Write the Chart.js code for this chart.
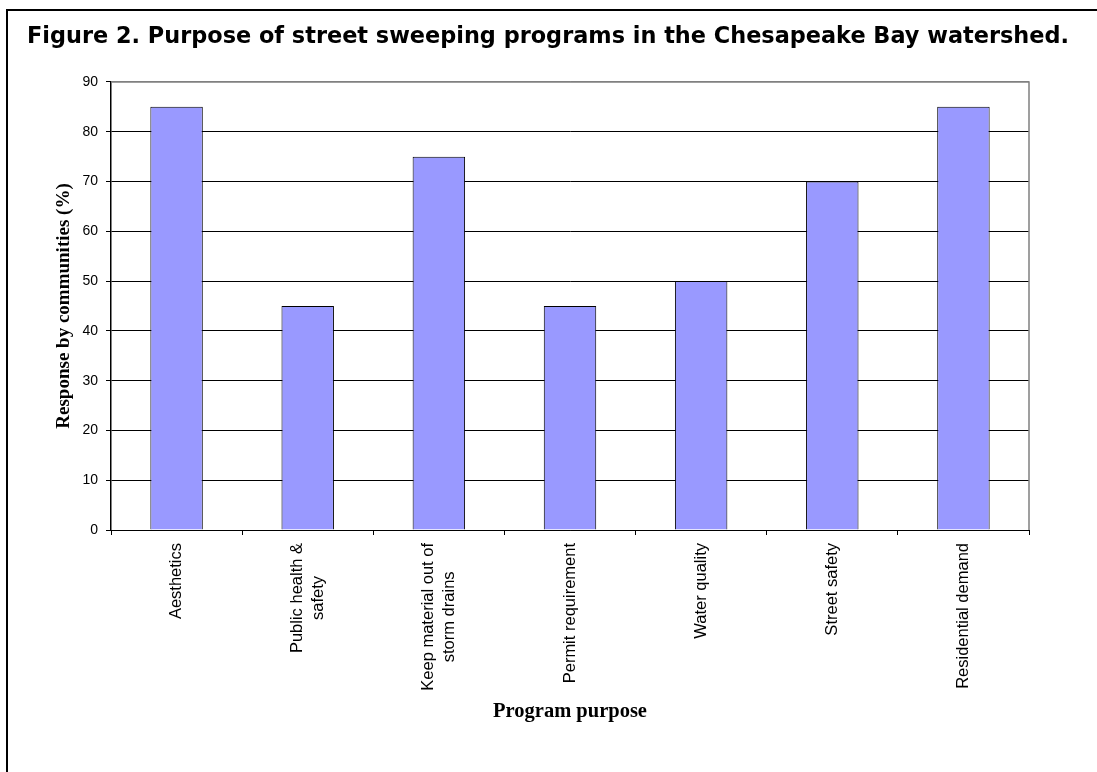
<!DOCTYPE html>
<html>
<head>
<meta charset="utf-8">
<script src="https://cdn.jsdelivr.net/npm/chart.js@4"></script>
<style>
  html, body { margin: 0; padding: 0; background: #fff; }
  #wrap { position: relative; width: 1097px; height: 772px; }
</style>
</head>
<body>
<div id="wrap"><canvas id="c" width="1097" height="772"></canvas></div>
<script>
const chartTitle = 'Figure 2. Purpose of street sweeping programs in the Chesapeake Bay watershed.';
const categories = [
  'Aesthetics',
  ['Public health &', 'safety'],
  ['Keep material out of', 'storm drains'],
  'Permit requirement',
  'Water quality',
  'Street safety',
  'Residential demand'
];
const responsePct = [85, 45, 75, 45, 50, 70, 85];
const yTitle = 'Response by communities (%)';
const xTitle = 'Program purpose';
const yMin = 0, yMax = 90, yStep = 10;

const frame = {
  id: 'frame',
  afterLayout(chart) {
    // let the figure title run across the full frame width (it is wider than the plot)
    const t = chart.titleBlock;
    if (t) { t.right = chart.width - 4; t.width = t.right - t.left; }
  },
  beforeDraw(chart) {
    const ctx = chart.ctx;
    ctx.save();
    ctx.fillStyle = '#fff';
    ctx.fillRect(0, 0, chart.width, chart.height);
    ctx.strokeStyle = '#000';
    ctx.lineWidth = 2;
    ctx.beginPath();
    ctx.moveTo(7, chart.height);
    ctx.lineTo(7, 10);
    ctx.lineTo(chart.width, 10);
    ctx.stroke();
    ctx.restore();

    // centre the lines of multi-line (rotated) category labels on each other and on the tick
    const scale = chart.scales.x;
    const items = scale.getLabelItems();
    items.forEach(item => {
      if (!Array.isArray(item.label) || item._centered) return;
      ctx.save();
      ctx.font = item.font.string;
      const widths = item.label.map(l => ctx.measureText(l).width);
      ctx.restore();
      const maxW = Math.max(...widths);
      const n = item.label.length;
      item.options.translation[0] -= (n - 1) * item.font.lineHeight / 2;
      item.options.translation[1] += maxW / 2;
      item.options.textAlign = 'center';
      item._centered = true;
    });
  },
  afterDatasetsDraw(chart) {
    const a = chart.chartArea;
    const ctx = chart.ctx;
    ctx.save();
    ctx.strokeStyle = '#808080';
    ctx.lineWidth = 1.5;
    ctx.beginPath();
    ctx.moveTo(a.left, a.top);
    ctx.lineTo(a.right, a.top);
    ctx.lineTo(a.right, a.bottom);
    ctx.stroke();
    ctx.restore();
  }
};

new Chart(document.getElementById('c'), {
  type: 'bar',
  data: {
    labels: categories,
    datasets: [{
      data: responsePct,
      backgroundColor: '#9999FF',
      borderColor: '#000',
      borderWidth: 1,
      categoryPercentage: 0.8,
      barPercentage: 0.5
    }]
  },
  options: {
    responsive: false,
    animation: false,
    devicePixelRatio: 1,
    layout: { padding: { left: 27, right: 68, top: 0, bottom: 0 } },
    plugins: {
      legend: { display: false },
      tooltip: { enabled: false },
      title: {
        display: true,
        text: chartTitle,
        align: 'start',
        color: '#000',
        font: { family: '"DejaVu Sans", Arial, sans-serif', size: 22.4, weight: 'bold', lineHeight: 1.2 },
        padding: { top: 24, bottom: 31.1 }
      }
    },
    scales: {
      x: {
        offset: true,
        grid: { display: true, drawOnChartArea: false, color: '#000', tickLength: 5, lineWidth: 1 },
        border: { display: true, color: '#000', width: 1 },
        ticks: {
          color: '#000',
          minRotation: 90, maxRotation: 90,
          autoSkip: false,
          padding: 8,
          font: { family: 'Arial, "Liberation Sans", sans-serif', size: 16.5, lineHeight: 1.3 }
        },
        title: {
          display: true, text: xTitle, color: '#000',
          font: { family: '"Times New Roman", "Liberation Serif", serif', size: 20.5, weight: 'bold', lineHeight: 1.2 },
          padding: { top: 4, bottom: 47.5 }
        },
        afterFit(scale) { scale.height = 242; }
      },
      y: {
        min: yMin, max: yMax,
        ticks: {
          stepSize: yStep, color: '#000', padding: 8,
          font: { family: 'Arial, "Liberation Sans", sans-serif', size: 14 }
        },
        grid: {
          color: (c) => (c.tick && c.tick.value === yMax) ? '#808080' : '#000',
          tickColor: '#000',
          tickLength: 5,
          lineWidth: 1
        },
        border: { display: true, color: '#000', width: 1.5 },
        title: {
          display: true, text: yTitle, color: '#000',
          font: { family: '"Times New Roman", "Liberation Serif", serif', size: 19, weight: 'bold', lineHeight: 1.2 },
          padding: { top: 25.6, bottom: 4 }
        },
        afterFit(scale) { scale.width = 84; }
      }
    }
  },
  plugins: [frame]
});
</script>
</body>
</html>
